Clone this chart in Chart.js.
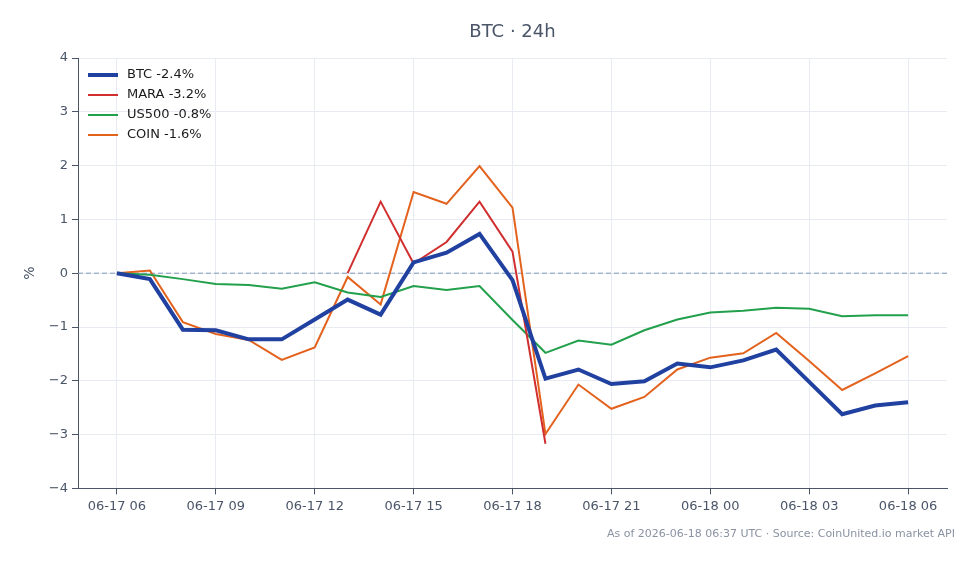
<!DOCTYPE html>
<html>
<head>
<meta charset="utf-8">
<script src="https://cdn.jsdelivr.net/npm/chart.js@4/dist/chart.umd.min.js"></script>
<style>
  html, body { margin: 0; padding: 0; background: #ffffff; }
  #wrap { width: 979px; height: 564px; position: relative; }
</style>
</head>
<body>
<div id="wrap"><canvas id="c" width="979" height="564"></canvas></div>
<script>
const hours = ["06-17 06","06-17 07","06-17 08","06-17 09","06-17 10","06-17 11","06-17 12","06-17 13","06-17 14","06-17 15","06-17 16","06-17 17","06-17 18","06-17 19","06-17 20","06-17 21","06-17 22","06-17 23","06-18 00","06-18 01","06-18 02","06-18 03","06-18 04","06-18 05","06-18 06"];
const tickEvery = 3;
const seriesNames = ["BTC -2.4%", "MARA -3.2%", "US500 -0.8%", "COIN -1.6%"];
const btc   = [0, -0.11, -1.05, -1.06, -1.23, -1.23, -0.86, -0.49, -0.77, 0.20, 0.38, 0.73, -0.13, -1.96, -1.79, -2.06, -2.01, -1.68, -1.75, -1.62, -1.42, -2.02, -2.62, -2.46, -2.40];
const mara  = [null, null, null, null, null, null, null, 0, 1.33, 0.18, 0.58, 1.33, 0.40, -3.17, null, null, null, null, null, null, null, null, null, null, null];
const us500 = [0, -0.03, -0.11, -0.20, -0.22, -0.29, -0.17, -0.36, -0.44, -0.24, -0.31, -0.24, -0.87, -1.48, -1.25, -1.33, -1.06, -0.86, -0.73, -0.70, -0.64, -0.66, -0.80, -0.78, -0.78];
const coin  = [0, 0.05, -0.91, -1.13, -1.24, -1.61, -1.38, -0.07, -0.58, 1.51, 1.29, 1.99, 1.22, -2.99, -2.07, -2.52, -2.30, -1.79, -1.57, -1.49, -1.11, -1.63, -2.17, -1.86, -1.54];
const yTicks = [-4, -3, -2, -1, 0, 1, 2, 3, 4];
const titleText = "BTC · 24h";
const footerText = "As of 2026-06-18 06:37 UTC · Source: CoinUnited.io market API";
const yTitle = "%";

const colors = ["#2141a1", "#d12f2f", "#22a04b", "#e3621d"];
const widths = [4, 2, 2, 2];

function pts(arr) { return arr.map((v, i) => ({ x: i, y: v })); }

const datasets = [btc, mara, us500, coin].map((arr, k) => ({
  label: seriesNames[k],
  data: pts(arr),
  borderColor: colors[k],
  backgroundColor: colors[k],
  borderWidth: widths[k],
  pointRadius: 0,
  tension: 0,
  spanGaps: false,
  order: k === 0 ? 0 : 1
}));

const zeroLine = {
  id: 'zeroLine',
  beforeDatasetsDraw(chart) {
    const { ctx, chartArea, scales } = chart;
    const y = scales.y.getPixelForValue(0);
    ctx.save();
    ctx.strokeStyle = '#8197b8';
    ctx.lineWidth = 1;
    ctx.setLineDash([5, 3]);
    ctx.beginPath();
    ctx.moveTo(chartArea.left, y);
    ctx.lineTo(chartArea.right, y);
    ctx.stroke();
    ctx.restore();
  }
};

const innerLegend = {
  id: 'innerLegend',
  afterDatasetsDraw(chart) {
    const { ctx, chartArea } = chart;
    ctx.save();
    ctx.font = '13px "DejaVu Sans", sans-serif';
    ctx.textBaseline = 'middle';
    chart.data.datasets.forEach((ds, i) => {
      const y = chartArea.top + 17 + i * 20;
      const x0 = chartArea.left + 10;
      ctx.strokeStyle = ds.borderColor;
      ctx.lineWidth = ds.borderWidth;
      ctx.beginPath();
      ctx.moveTo(x0, y);
      ctx.lineTo(x0 + 30, y);
      ctx.stroke();
      ctx.fillStyle = '#1a1a1a';
      ctx.fillText(ds.label, x0 + 39, y);
    });
    ctx.restore();
  }
};

const texts = {
  id: 'texts',
  afterDraw(chart) {
    const { ctx, width, chartArea } = chart;
    ctx.save();
    ctx.font = '18px "DejaVu Sans", sans-serif';
    ctx.fillStyle = '#4a5568';
    ctx.textAlign = 'center';
    ctx.textBaseline = 'middle';
    ctx.fillText(titleText, (chartArea.left + chartArea.right) / 2, 32);
    ctx.font = '11px "DejaVu Sans", sans-serif';
    ctx.fillStyle = '#8a93a3';
    ctx.textAlign = 'right';
    ctx.fillText(footerText, width - 24, 534);
    ctx.restore();
  }
};

new Chart(document.getElementById('c'), {
  type: 'line',
  data: { datasets },
  plugins: [zeroLine, innerLegend, texts],
  options: {
    responsive: false,
    animation: false,
    layout: { padding: { left: 0, right: 32, top: 58, bottom: 46 } },
    plugins: {
      legend: { display: false },
      tooltip: { enabled: false },
      title: { display: false }
    },
    scales: {
      x: {
        type: 'linear',
        min: -1.18,
        max: 25.18,
        afterBuildTicks(scale) {
          const t = [];
          for (let i = 0; i < hours.length; i += tickEvery) t.push({ value: i });
          scale.ticks = t;
        },
        ticks: {
          autoSkip: false,
          maxRotation: 0,
          color: '#4a5568',
          font: { family: '"DejaVu Sans", sans-serif', size: 13 },
          padding: 4,
          callback: (v) => hours[v]
        },
        grid: { color: '#e8ecf2', lineWidth: 1, tickLength: 6, tickColor: '#4a5568', drawTicks: true },
        border: { display: true, color: '#4a5568', width: 1 }
      },
      y: {
        min: -4,
        max: 4,
        afterBuildTicks(scale) { scale.ticks = yTicks.map(v => ({ value: v })); },
        afterFit(scale) { scale.width = 78; },
        ticks: {
          color: '#4a5568',
          font: { family: '"DejaVu Sans", sans-serif', size: 13 },
          padding: 4,
          callback: (v) => (v < 0 ? '\u2212' + Math.abs(v) : String(v))
        },
        grid: { color: '#e8ecf2', lineWidth: 1, tickLength: 6, tickColor: '#4a5568' },
        border: { display: true, color: '#4a5568', width: 1 },
        title: {
          display: true,
          text: yTitle,
          color: '#4a5568',
          font: { family: '"DejaVu Sans", sans-serif', size: 14 },
          padding: { top: 22, bottom: 0 }
        }
      }
    }
  }
});
</script>
</body>
</html>
